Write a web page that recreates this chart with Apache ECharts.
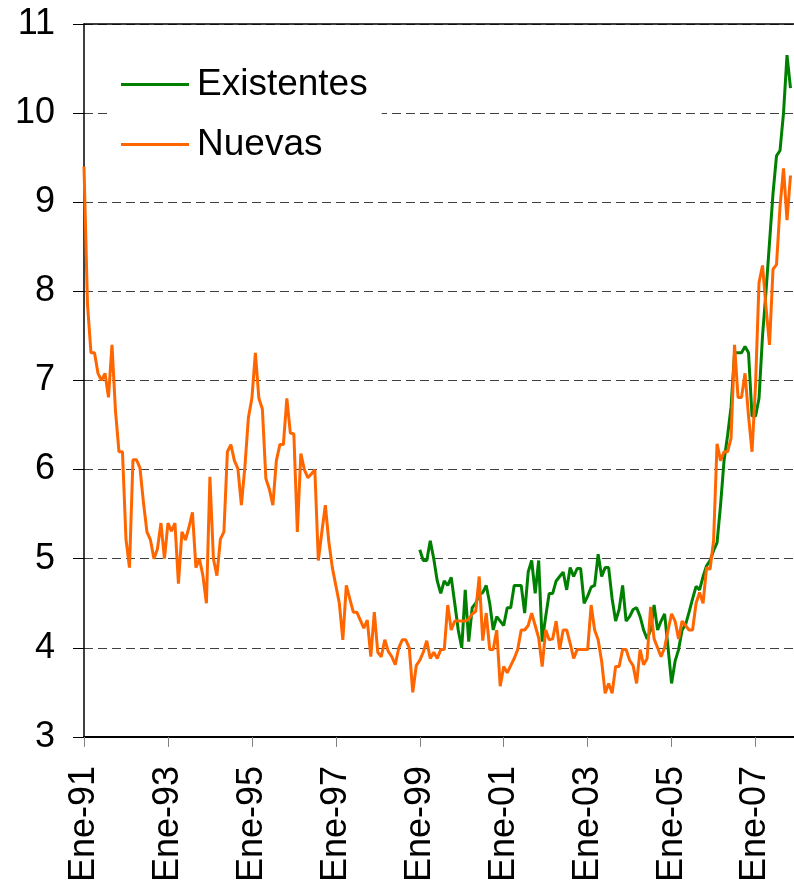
<!DOCTYPE html>
<html>
<head>
<meta charset="utf-8">
<title>Existentes / Nuevas</title>
<script src="https://cdn.jsdelivr.net/npm/echarts@6/dist/echarts.min.js"></script>
<style>
  html, body { margin: 0; padding: 0; background: #fff; }
  #chart { width: 794px; height: 885px; }
</style>
</head>
<body>
<div id="chart"></div>
<script>
// meses en español, serie mensual desde Ene-91
const monthNames = ['Ene', 'Feb', 'Mar', 'Abr', 'May', 'Jun', 'Jul', 'Ago', 'Sep', 'Oct', 'Nov', 'Dic']
const firstYear = 1991
const monthCount = 204 // Ene-91 .. Dic-07

const nuevas = [
  9.4, 7.85, 7.31, 7.31, 7.08, 7.0, 7.08, 6.81, 7.4, 6.66,
  6.2, 6.2, 5.22, 4.9, 6.11, 6.11, 6.02, 5.63, 5.3, 5.21,
  5.0, 5.11, 5.4, 5.0, 5.4, 5.31, 5.4, 4.72, 5.3, 5.21,
  5.35, 5.52, 4.9, 5.0, 4.81, 4.5, 5.92, 5.0, 4.81, 5.22,
  5.3, 6.2, 6.28, 6.1, 6.01, 5.6, 6.03, 6.58, 6.8, 7.31,
  6.8, 6.68, 5.9, 5.78, 5.6, 6.1, 6.28, 6.28, 6.8, 6.41,
  6.4, 5.3, 6.18, 6.0, 5.91, 5.95, 6.0, 4.98, 5.3, 5.6,
  5.19, 4.9, 4.7, 4.5, 4.09, 4.7, 4.55, 4.4, 4.4, 4.31,
  4.22, 4.31, 3.9, 4.4, 3.95, 3.9, 4.09, 3.96, 3.9, 3.81,
  4.0, 4.09, 4.09, 4.0, 3.5, 3.8, 3.86, 3.95, 4.08, 3.88,
  3.95, 3.88, 3.98, 3.98, 4.48, 4.2, 4.3, 4.3, 4.3, 4.3,
  4.32, 4.38, 4.41, 4.8, 4.08, 4.39, 3.98, 3.98, 4.2, 3.57,
  3.79, 3.72, 3.8, 3.88, 3.98, 4.2, 4.2, 4.25, 4.39, 4.25,
  4.11, 3.79, 4.2, 4.09, 4.1, 4.3, 3.98, 4.2, 4.2, 4.05,
  3.88, 3.98, 3.98, 3.98, 3.98, 4.48, 4.2, 4.09, 3.85, 3.49,
  3.6, 3.49, 3.79, 3.79, 3.98, 3.98, 3.86, 3.8, 3.6, 3.98,
  3.81, 3.88, 4.46, 4.1, 4.0, 3.9, 4.0, 4.2, 4.38, 4.3,
  4.1, 4.3, 4.25, 4.2, 4.2, 4.5, 4.62, 4.5, 4.9, 4.88,
  5.2, 6.29, 6.1, 6.2, 6.2, 6.35, 7.4, 6.81, 6.81, 7.08,
  6.6, 6.2, 6.95, 8.1, 8.29, 7.82, 7.4, 8.25, 8.3, 8.95,
  9.38, 8.8, 9.3
]

// Existentes empieza en Ene-99 (índice 96)
const existentesStart = 96
const existentes = [
  5.1, 4.98, 4.98, 5.2, 5.0, 4.75, 4.61, 4.75, 4.7, 4.79,
  4.5, 4.2, 4.0, 4.65, 4.07, 4.45, 4.5, 4.6, 4.62, 4.7,
  4.5, 4.2, 4.35, 4.3, 4.25, 4.45, 4.45, 4.7, 4.7, 4.7,
  4.39, 4.85, 4.98, 4.61, 4.98, 4.07, 4.35, 4.61, 4.61, 4.75,
  4.8, 4.85, 4.65, 4.9, 4.8, 4.89, 4.89, 4.5, 4.58, 4.68,
  4.7, 5.05, 4.8, 4.9, 4.9, 4.55, 4.3, 4.43, 4.7, 4.3,
  4.35, 4.43, 4.45, 4.35, 4.2, 4.1, 4.2, 4.48, 4.2, 4.3,
  4.38, 4.0, 3.6, 3.85, 3.98, 4.2, 4.26, 4.4, 4.55, 4.69,
  4.65, 4.8, 4.92, 4.98, 5.09, 5.18, 5.6, 6.1, 6.38, 6.7,
  7.31, 7.31, 7.31, 7.38, 7.31, 6.6, 6.6, 6.8, 7.5, 8.0,
  8.55, 9.1, 9.52, 9.58, 10.0, 10.65, 10.28
]

const categories = []
for (let i = 0; i < monthCount; i++) {
  const yy = String((firstYear + Math.floor(i / 12)) % 100).padStart(2, '0')
  categories.push(monthNames[i % 12] + '-' + yy)
}

const existentesData = categories.map((_c, i) =>
  i >= existentesStart && i - existentesStart < existentes.length ? existentes[i - existentesStart] : null
)

const fontFamily = '"Liberation Sans", Arial, sans-serif'

const chart = echarts.init(document.getElementById('chart'))

chart.setOption({
  animation: false,
  backgroundColor: '#fff',
  textStyle: { fontFamily: fontFamily },
  grid: {
    left: 84,
    right: 0,
    top: 24,
    bottom: 144,
    containLabel: false,
  },
  legend: {
    data: ['Existentes', 'Nuevas'],
    orient: 'vertical',
    left: 107,
    top: 54,
    icon: 'rect',
    itemWidth: 68,
    itemHeight: 3,
    itemGap: 23,
    padding: [12, 14, 12, 14],
    backgroundColor: '#fff',
    textStyle: {
      fontSize: 37,
      color: '#000',
      fontFamily: fontFamily,
      padding: [0, 0, 0, 3],
    },
  },
  xAxis: [
    {
      type: 'category',
      data: categories,
      boundaryGap: false,
      axisLine: { lineStyle: { color: '#000', width: 2 } },
      axisTick: {
        interval: 23,
        length: 10,
        lineStyle: { color: '#808080', width: 1 },
      },
      axisLabel: {
        interval: 23,
        rotate: 90,
        margin: 29,
        fontSize: 36,
        color: '#000',
        fontFamily: fontFamily,
      },
      splitLine: { show: false },
    },
    {
      // línea superior del área de trazado
      type: 'category',
      data: categories,
      position: 'top',
      boundaryGap: false,
      axisLine: { lineStyle: { color: '#000', width: 1.5 } },
      axisTick: { show: false },
      axisLabel: { show: false },
    },
  ],
  yAxis: {
    type: 'value',
    min: 3,
    max: 11,
    interval: 1,
    axisLine: { show: true, lineStyle: { color: '#000', width: 1.5 } },
    axisTick: { show: true, length: 11, lineStyle: { color: '#000', width: 1 } },
    axisLabel: {
      margin: 29,
      fontSize: 36,
      color: '#000',
      fontFamily: fontFamily,
    },
    splitLine: {
      lineStyle: { color: '#404040', width: 1, type: [9, 5] },
    },
  },
  series: [
    {
      name: 'Existentes',
      type: 'line',
      data: existentesData,
      symbol: 'none',
      connectNulls: false,
      lineStyle: { color: '#008000', width: 3 },
      itemStyle: { color: '#008000' },
    },
    {
      name: 'Nuevas',
      type: 'line',
      data: nuevas,
      symbol: 'none',
      lineStyle: { color: '#ff6600', width: 3 },
      itemStyle: { color: '#ff6600' },
    },
  ],
})
</script>
</body>
</html>
